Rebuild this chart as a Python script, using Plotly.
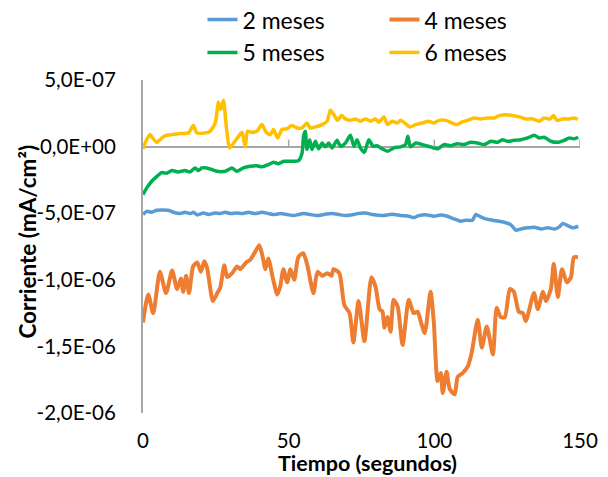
import plotly.graph_objects as go

# ---- data (current in units of 1e-7 mA/cm^2, time in s) ----
t_2m = [0, 1.3, 3, 4.7, 8.7, 10.4, 12.7, 14.4, 16.2, 17.3, 18.7, 20.7, 22.5, 24.8, 26.5, 28.2, 30.2,
        32.2, 34, 36.2, 38.5, 40.8, 43.1, 45.4, 47.1, 49.4, 51.7, 53.4, 55.1, 57.4, 59.8, 62, 64.9,
        67.2, 69.5, 72.4, 73.5, 76.4, 78.7, 82.1, 85.5, 88.4, 91.3, 93, 94.7, 97.6, 99.9, 102.2,
        104.5, 106.7, 109, 110.8, 113.1, 114.2, 115.9, 117.6, 120, 122.2, 124, 126.2, 128, 129.7,
        132, 134.3, 136.6, 138.9, 141.4, 142.9, 144, 145.8, 147.5, 149.4]
i_2m = [-5.1, -4.86, -4.93, -4.78, -4.78, -4.93, -5.03, -4.93, -5.03, -4.93, -5.13, -4.98, -5.1,
        -4.98, -5.03, -4.93, -5.03, -4.98, -5.03, -4.93, -5.03, -4.93, -5.03, -5.1, -5.03, -5.1,
        -5.18, -5.1, -5.03, -5.1, -5.18, -5.1, -5.03, -5.1, -5.18, -5.1, -5.03, -4.98, -5.1, -5.18,
        -5.08, -5.18, -5.23, -5.33, -5.18, -5.13, -5.23, -5.13, -5.23, -5.43, -5.6, -5.53, -5.53,
        -5.1, -5.28, -5.43, -5.53, -5.6, -5.68, -5.86, -6.28, -6.18, -6.1, -6.05, -6.18, -6.1,
        -6.18, -6.03, -5.78, -5.93, -6.1, -5.98]

t_4m = [0, 1.8, 3.5, 5.8, 7.9, 10, 11.7, 13, 13.8, 14.8, 15.8, 17.2, 18.6, 19.9, 21, 22, 24, 25.5,
        26.5, 27.9, 28.9, 30.6, 32.3, 33.4, 35.4, 36.8, 38.5, 39.9, 40.9, 42, 43, 44.7, 46.1, 47.1,
        48.2, 49.5, 50.6, 51.9, 53.3, 55, 56.4, 58.5, 59.9, 61.6, 63.3, 64.7, 65.4, 67.4, 69.1,
        70.9, 72.2, 74, 76, 78.4, 79.8, 81.2, 82.2, 82.9, 83.9, 85, 86, 87.4, 89.1, 91.2, 92.9,
        94.3, 95.3, 96.7, 98.7, 99.8, 101.1, 102.2, 102.9, 104.2, 105.3, 107, 108, 109.7, 111.5,
        112.8, 114.9, 116.3, 118, 120.1, 121.4, 122.8, 124.2, 125.9, 127.3, 129, 130.4, 131.4,
        134.2, 135.5, 137.3, 138.3, 140, 141, 142.4, 143.8, 145.5, 146.9, 147.9, 149.3]
i_4m = [-13.2, -11.1, -12.5, -9.4, -11.0, -9.3, -10.7, -9.9, -10.9, -9.7, -11.0, -9.0, -8.7, -9.4,
        -8.6, -9.1, -11.6, -11.0, -10.6, -8.9, -9.8, -9.5, -9.0, -9.2, -8.7, -8.5, -7.9, -7.4, -8.1,
        -9.2, -8.4, -10.0, -11.1, -10.5, -9.2, -10.2, -9.2, -10.0, -8.3, -8.0, -8.9, -11.0, -9.4,
        -9.7, -9.5, -9.7, -9.2, -9.5, -11.9, -12.5, -14.7, -11.6, -14.6, -9.8, -10.5, -12.2, -12.4,
        -13.6, -12.8, -13.9, -11.5, -12.0, -14.9, -11.5, -12.5, -12.4, -13.1, -14.0, -10.9, -13.1,
        -17.6, -17.0, -18.5, -16.9, -18.2, -18.6, -17.3, -17.0, -16.5, -15.5, -13.0, -15.1, -13.5,
        -15.6, -12.1, -12.8, -12.8, -10.7, -10.9, -12.4, -12.5, -13.1, -11.0, -12.2, -10.9, -11.6,
        -10.7, -8.8, -11.3, -9.2, -10.2, -9.8, -8.3, -8.3]

t_5m = [0, 1.3, 3, 4.7, 6.4, 8.1, 9.9, 12, 14.4, 16.2, 17.9, 19, 20.2, 21.9, 25.3, 28.2, 30.5,
        32.2, 34.5, 36.8, 39.1, 40.8, 43.1, 44.8, 46.5, 48.3, 50, 51.7, 53.4, 54.6, 55.1, 55.7,
        56.3, 57.2, 58, 59.2, 60.3, 61.5, 62.6, 63.7, 64.9, 66.6, 67.8, 69.5, 71.2, 72.4, 73.5,
        74.6, 76, 77.5, 79, 80.4, 82.1, 84, 86.1, 88.4, 90.1, 90.9, 91.8, 93.6, 95.9, 98.7, 101.2,
        103.3, 105.6, 107.9, 110.2, 112.5, 114.8, 117.1, 119.4, 121.7, 123.4, 125.1, 127.4, 129.7,
        132, 134.3, 136, 137.7, 140, 142.3, 144.6, 146.3, 148, 149.4]
i_5m = [-3.6, -3.1, -2.6, -2.25, -1.95, -2.0, -1.8, -1.9, -1.8, -1.9, -1.6, -1.8, -1.6, -1.6,
        -1.85, -1.85, -1.6, -1.85, -1.6, -1.48, -1.43, -1.52, -1.35, -1.18, -1.28, -1.1, -1.1,
        -1.1, -1.05, -0.48, 0.77, 1.15, -0.22, 0.52, -0.22, 0.4, -0.17, 0.27, -0.02, 0.27, -0.1,
        0.47, 0.02, 0.27, 0.85, 0.02, 0.52, -0.1, -0.43, 0.52, 0.02, 0.07, -0.17, -0.35, -0.1,
        -0.02, 0.15, 0.77, -0.02, 0.27, 0.15, -0.02, -0.17, 0.15, 0.07, 0.22, 0.15, 0.32, 0.27,
        0.15, 0.4, 0.32, 0.52, 0.4, 0.47, 0.52, 0.65, 0.85, 0.65, 0.7, 0.4, 0.32, 0.47, 0.65, 0.58,
        0.7]

t_6m = [0, 1, 2.4, 3.3, 4.7, 5.8, 7.6, 9.9, 12.7, 15.6, 17.3, 18.5, 21.3, 23, 24.8, 25.9, 26.7,
        27.6, 28.6, 29.7, 31.1, 32.8, 34, 35.1, 35.9, 37.4, 39.1, 40.8, 42.3, 43.7, 44.8, 46.2,
        47.7, 49.4, 51.1, 52.9, 54.6, 56.3, 57.4, 59.2, 61.5, 63.2, 64.3, 65.5, 66.8, 68.1, 69.5,
        71.2, 72.9, 74.6, 76.4, 78.1, 79.8, 80.9, 82.7, 84, 85.5, 87.3, 88.4, 90.1, 91.6, 93.6,
        95.9, 98.1, 99.9, 101.6, 103.9, 105.6, 107.7, 109.6, 111.4, 113.6, 115.9, 118.2, 120.5,
        122.2, 124.5, 126.8, 129.1, 131.4, 133.7, 136, 137.7, 139.8, 140.9, 142.1, 144, 146.3,
        148, 149.2]
i_6m = [-0.17, 0.4, 0.9, 0.65, 0.32, 0.52, 0.82, 0.9, 0.98, 1.03, 1.58, 1.03, 1.03, 1.15, 1.78,
        3.33, 2.78, 3.48, 1.52, -0.1, 0.27, 0.77, 1.07, -0.02, 1.15, 1.07, 1.15, 1.65, 1.07, 0.9,
        1.28, 0.65, 1.28, 1.33, 1.58, 1.4, 1.4, 1.78, 1.4, 1.48, 1.65, 1.9, 2.73, 2.4, 1.97, 2.33,
        2.08, 1.97, 2.08, 1.9, 2.08, 1.9, 2.08, 1.82, 2.23, 1.65, 1.9, 1.78, 1.97, 1.73, 1.48,
        1.65, 1.78, 1.9, 1.78, 1.97, 1.97, 1.82, 1.65, 1.85, 1.97, 2.15, 2.08, 2.15, 2.15, 2.33,
        2.4, 2.33, 2.23, 2.08, 2.08, 1.9, 2.15, 2.08, 2.33, 1.97, 2.08, 2.08, 2.15, 2.03]

series_names = ["2 meses", "4 meses", "5 meses", "6 meses"]
series_t = [t_2m, t_4m, t_5m, t_6m]
series_i = [i_2m, i_4m, i_5m, i_6m]
colors = ["#5B9BD5", "#ED7D31", "#00B050", "#FFC000"]
widths = [3.5, 4, 3.5, 3.5]

y_tickvals = [5e-7, 0, -5e-7, -1e-6, -1.5e-6, -2e-6]
y_ticktext = ["5,0E-07", "0,0E+00", "-5,0E-07", "-1,0E-06", "-1,5E-06", "-2,0E-06"]
x_tickvals = [0, 50, 100, 150]
UNIT = 1e-7

FONT = "Lato"

fig = go.Figure()
for name, tt, ii, c, w in zip(series_names, series_t, series_i, colors, widths):
    fig.add_trace(go.Scatter(
        x=tt, y=[v * UNIT for v in ii], name=name, mode="lines",
        line=dict(color=c, width=w, shape="spline", smoothing=0.6),
    ))

# small upward tick marks on the horizontal (zero) axis
for xv in x_tickvals[1:]:
    fig.add_shape(type="line", xref="x", yref="y", x0=xv, x1=xv, y0=0, y1=7,
                  ysizemode="pixel", yanchor=0, line=dict(color="#A6A6A6", width=1.5))

fig.update_layout(
    width=608, height=477,
    margin=dict(l=143, r=28, t=80, b=64, autoexpand=False),
    paper_bgcolor="white", plot_bgcolor="white",
    font=dict(family=FONT, size=20.5, color="#000000"),
    showlegend=True,
    legend=dict(orientation="h", xref="container", yref="paper",
                x=0.333, y=1.246, xanchor="left", yanchor="top",
                entrywidth=137, font=dict(size=23, family=FONT),
                bgcolor="rgba(0,0,0,0)"),
    xaxis=dict(range=[0, 150], tickvals=x_tickvals, ticktext=[str(v) for v in x_tickvals],
               showline=False, showgrid=False, zeroline=False, ticks="",
               ticklabelstandoff=13, tickfont=dict(size=20.5, family=FONT)),
    yaxis=dict(range=[-2e-6, 5e-7], tickvals=y_tickvals, ticktext=y_ticktext,
               showline=True, linecolor="#A6A6A6", linewidth=2, showgrid=False,
               zeroline=True, zerolinecolor="#A6A6A6", zerolinewidth=1.5,
               ticks="", ticklabelstandoff=21, tickfont=dict(size=20.5, family=FONT)),
    annotations=[
        dict(text="<b>Tiempo (segundos)</b>", xref="paper", yref="paper",
             x=0.514, y=-0.15, xanchor="center", yanchor="middle", showarrow=False,
             font=dict(size=21.5, family=FONT)),
        dict(text="<b>Corriente (mA/cm²)</b>", xref="paper", yref="paper",
             x=(28 - 143) / 436, y=0.514, xanchor="center", yanchor="middle",
             textangle=-90, showarrow=False, font=dict(size=22.5, family=FONT)),
    ],
)

fig.write_html("out.html")
